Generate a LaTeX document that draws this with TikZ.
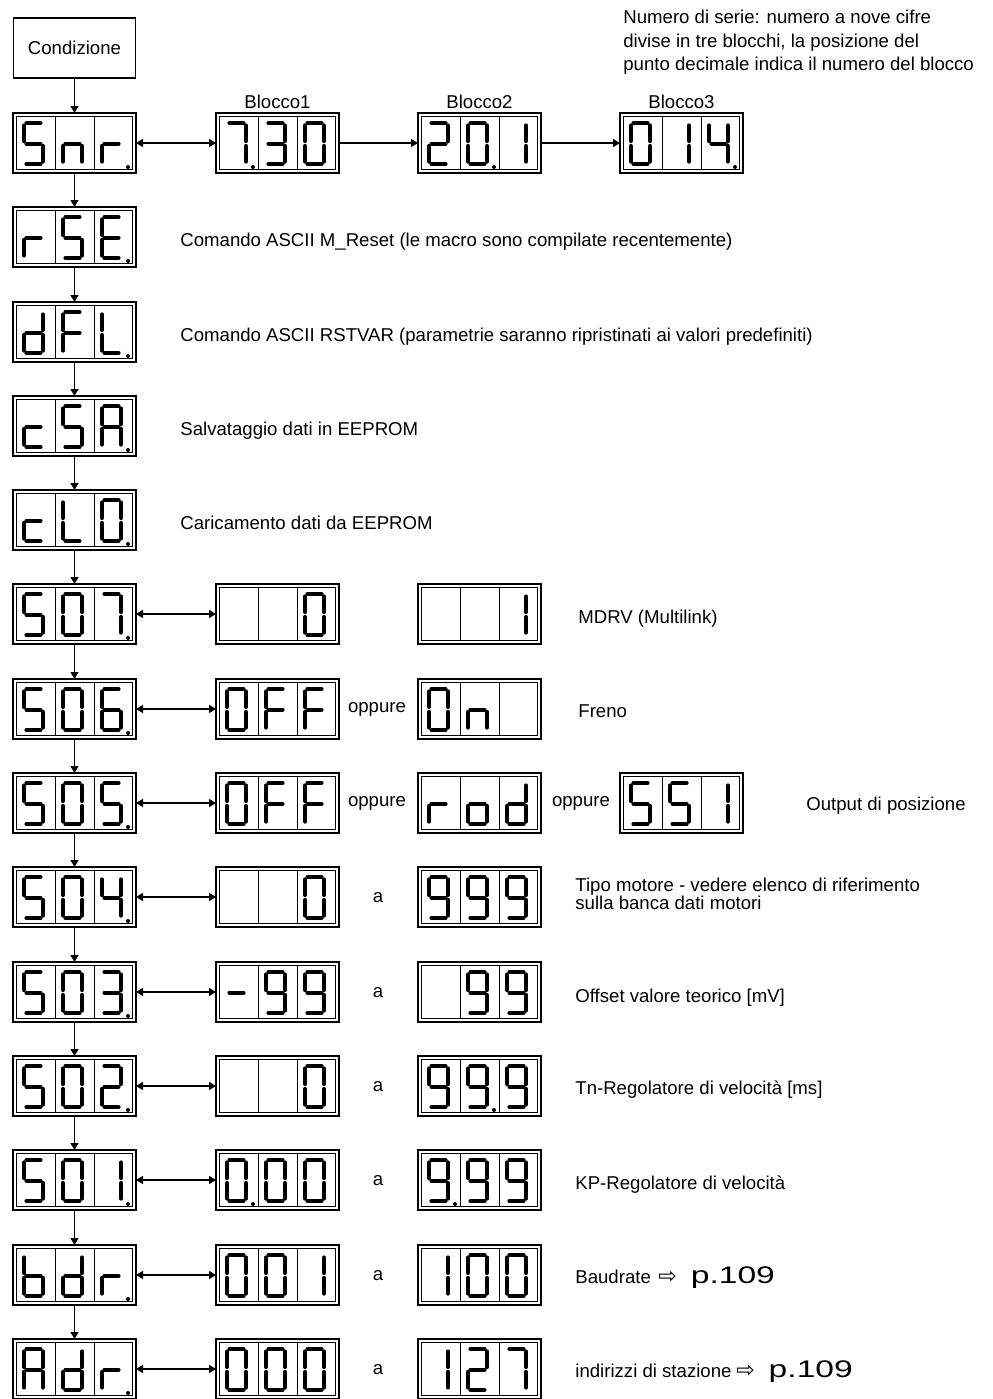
\documentclass[tikz,border=0pt]{standalone}
\usepackage{fontspec}
\usepackage{graphicx}
\setmainfont{Liberation Sans}
\newfontfamily\arrowfont{DejaVu Sans}
\usetikzlibrary{arrows.meta,positioning}

\newcommand{\sga}{\draw[seg] (10.4,7) -- (24.6,7);}
\newcommand{\sgb}{\draw[seg] (27,9.4) -- (27,25.1);}
\newcommand{\sgc}{\draw[seg] (27,29.9) -- (27,45.6);}
\newcommand{\sgd}{\draw[seg] (10.4,48) -- (24.6,48);}
\newcommand{\sge}{\draw[seg] (8,29.9) -- (8,45.6);}
\newcommand{\sgf}{\draw[seg] (8,9.4) -- (8,25.1);}
\newcommand{\sgg}{\draw[seg] (10.4,27.5) -- (24.6,27.5);}
\newcommand{\sgz}{}

\newcommand{\lcddef}[2]{\expandafter\def\csname lcd#1\endcsname{#2}}
\lcddef{0}{a,b,c,d,e,f}
\lcddef{1}{b,c}
\lcddef{2}{a,b,g,e,d}
\lcddef{3}{a,b,g,c,d}
\lcddef{4}{f,g,b,c}
\lcddef{5}{a,f,g,c,d}
\lcddef{6}{a,f,g,e,c,d}
\lcddef{7}{a,b,c}
\lcddef{9}{a,b,c,d,f,g}
\lcddef{A}{a,b,c,e,f,g}
\lcddef{b}{c,d,e,f,g}
\lcddef{c}{d,e,g}
\lcddef{d}{b,c,d,e,g}
\lcddef{E}{a,d,e,f,g}
\lcddef{F}{a,e,f,g}
\lcddef{L}{d,e,f}
\lcddef{n}{c,e,g}
\lcddef{o}{c,d,e,g}
\lcddef{r}{e,g}
\lcddef{-}{g}
\lcddef{x}{z}

\newcommand{\lcdcell}[2]{%
  \begin{scope}[shift={(#1,3)}]
    \edef\lcdsegs{\csname lcd#2\endcsname}%
    \foreach \segname in \lcdsegs {\csname sg\segname\endcsname}
  \end{scope}}

\newcommand{\lcd}[6]{%
  \node[lcdbox] (#1) at (#2) {};
  \begin{scope}[shift={(#1.north west)}]
    \draw[lcdline] (3.2,3.2) rectangle (119.8,56.8) (42,3.2) -- (42,56.8) (81,3.2) -- (81,56.8);
    \lcdcell{3}{#3}\lcdcell{42}{#4}\lcdcell{81}{#5}
    \foreach \dt in {#6} {\ifnum\dt>0 \fill ({\dt*39-2},54) circle (2);\fi}
  \end{scope}}

\newcommand{\seepage}{{\arrowfont\fontsize{11}{12}\selectfont ⇨}\hspace{7pt}{\fontsize{12}{14}\selectfont\scalebox{1.4}[1]{p.109}}}

\begin{document}
\begin{tikzpicture}[x=0.5pt, y=-0.5pt,
  font=\fontsize{9.3}{11.75}\selectfont,
  lcdbox/.style={draw, line width=0.7pt, minimum width=61.5pt, minimum height=30pt, inner sep=0pt, outer sep=0pt},
  lcdline/.style={line width=0.45pt},
  seg/.style={line width=2pt, line cap=round},
  condbox/.style={draw, line width=0.6pt, minimum width=61pt, minimum height=30pt, inner sep=0pt},
  lbl/.style={inner sep=0pt, anchor=base west},
  word/.style={inner sep=0pt, anchor=base},
  conn/.style={line width=0.6pt, -{Triangle[length=3.5pt,width=4pt]}},
  both/.style={line width=0.6pt, {Triangle[length=3.5pt,width=4pt]}-{Triangle[length=3.5pt,width=4pt]}}]
\useasboundingbox (0,0) rectangle (992,1399);

\node[condbox] (cond) at (74.5,48) {Condizione};
\node[inner sep=0pt, anchor=north west, align=left] (serie) at (623,10)
  {Numero di serie: numero a nove cifre\\divise in tre blocchi, la posizione del\\punto decimale indica il numero del blocco};

\lcd{snr}{74.5,143}{5}{n}{r}{3}
\lcd{blk1}{277.5,143}{7}{3}{0}{1}
\lcd{blk2}{479.5,143}{2}{0}{1}{2}
\lcd{blk3}{681.5,143}{0}{1}{4}{3}
\lcd{rse}{74.5,237}{r}{5}{E}{3}
\lcd{dfl}{74.5,332}{d}{F}{L}{3}
\lcd{csa}{74.5,426}{c}{5}{A}{3}
\lcd{clo}{74.5,520}{c}{L}{0}{3}
\lcd{s07}{74.5,614}{5}{0}{7}{3}
\lcd{mdlo}{277.5,614}{x}{x}{0}{0}
\lcd{mdhi}{479.5,614}{x}{x}{1}{0}
\lcd{s06}{74.5,709}{5}{0}{6}{3}
\lcd{froff}{277.5,709}{0}{F}{F}{0}
\lcd{fron}{479.5,709}{0}{n}{x}{0}
\lcd{s05}{74.5,803}{5}{0}{5}{3}
\lcd{outoff}{277.5,803}{0}{F}{F}{0}
\lcd{outrod}{479.5,803}{r}{o}{d}{0}
\lcd{outssi}{681.5,803}{5}{5}{1}{0}
\lcd{s04}{74.5,897}{5}{0}{4}{3}
\lcd{motlo}{277.5,897}{x}{x}{0}{0}
\lcd{mothi}{479.5,897}{9}{9}{9}{0}
\lcd{s03}{74.5,992}{5}{0}{3}{3}
\lcd{offlo}{277.5,992}{-}{9}{9}{0}
\lcd{offhi}{479.5,992}{x}{9}{9}{0}
\lcd{s02}{74.5,1086}{5}{0}{2}{3}
\lcd{tnlo}{277.5,1086}{x}{x}{0}{0}
\lcd{tnhi}{479.5,1086}{9}{9}{9}{2}
\lcd{s01}{74.5,1180}{5}{0}{1}{3}
\lcd{kplo}{277.5,1180}{0}{0}{0}{1}
\lcd{kphi}{479.5,1180}{9}{9}{9}{1}
\lcd{bdr}{74.5,1275}{b}{d}{r}{3}
\lcd{bdlo}{277.5,1275}{0}{0}{1}{0}
\lcd{bdhi}{479.5,1275}{1}{0}{0}{0}
\lcd{adr}{74.5,1369}{A}{d}{r}{3}
\lcd{adlo}{277.5,1369}{0}{0}{0}{0}
\lcd{adhi}{479.5,1369}{1}{2}{7}{0}

\node[inner sep=0pt, above=2pt of blk1] (lblk1) {Blocco1};
\node[inner sep=0pt, above=2pt of blk2] (lblk2) {Blocco2};
\node[inner sep=0pt, above=2pt of blk3] (lblk3) {Blocco3};

\node[lbl] (trse) at (180,246) {Comando ASCII M\_Reset (le macro sono compilate recentemente)};
\node[lbl] (tdfl) at (180,341) {Comando ASCII RSTVAR (parametrie saranno ripristinati ai valori predefiniti)};
\node[lbl] (tcsa) at (180,435) {Salvataggio dati in EEPROM};
\node[lbl] (tclo) at (180,529) {Caricamento dati da EEPROM};
\node[lbl] (ts07) at (578,623) {MDRV (Multilink)};
\node[word] (or06) at (377,712) {oppure};
\node[lbl] (ts06) at (578,717) {Freno};
\node[word] (or05a) at (377,806) {oppure};
\node[word] (or05b) at (581,806) {oppure};
\node[lbl] (ts05) at (806,810) {Output di posizione};
\node[word] (a04) at (378,902) {a};
\node[inner sep=0pt, anchor=north west, align=left, font=\fontsize{9.3}{9}\selectfont] (ts04) at (575,878)
  {Tipo motore - vedere elenco di riferimento\\sulla banca dati motori};
\node[word] (a03) at (378,997) {a};
\node[lbl] (ts03) at (575,1002) {Offset valore teorico [mV]};
\node[word] (a02) at (378,1091) {a};
\node[lbl] (ts02) at (575,1094) {Tn-Regolatore di velocità [ms]};
\node[word] (a01) at (378,1185) {a};
\node[lbl] (ts01) at (575,1189) {KP-Regolatore di velocità};
\node[word] (abd) at (378,1280) {a};
\node[lbl] (tbdr) at (575,1283) {Baudrate};
\node[lbl] (pbdr) at (658,1283) {\seepage};
\node[word] (aad) at (378,1374) {a};
\node[lbl] (tadr) at (575,1377) {indirizzi di stazione};
\node[lbl] (padr) at ([xshift=2pt]tadr.base east) {\seepage};

\path[conn] (cond) edge (snr) (snr) edge (rse) (rse) edge (dfl) (dfl) edge (csa)
  (csa) edge (clo) (clo) edge (s07) (s07) edge (s06) (s06) edge (s05) (s05) edge (s04)
  (s04) edge (s03) (s03) edge (s02) (s02) edge (s01) (s01) edge (bdr) (bdr) edge (adr);
\path[conn] (blk1) edge (blk2) (blk2) edge (blk3);
\path[both] (snr) edge (blk1) (s07) edge (mdlo) (s06) edge (froff) (s05) edge (outoff)
  (s04) edge (motlo) (s03) edge (offlo) (s02) edge (tnlo) (s01) edge (kplo)
  (bdr) edge (bdlo) (adr) edge (adlo);
\end{tikzpicture}
\end{document}
